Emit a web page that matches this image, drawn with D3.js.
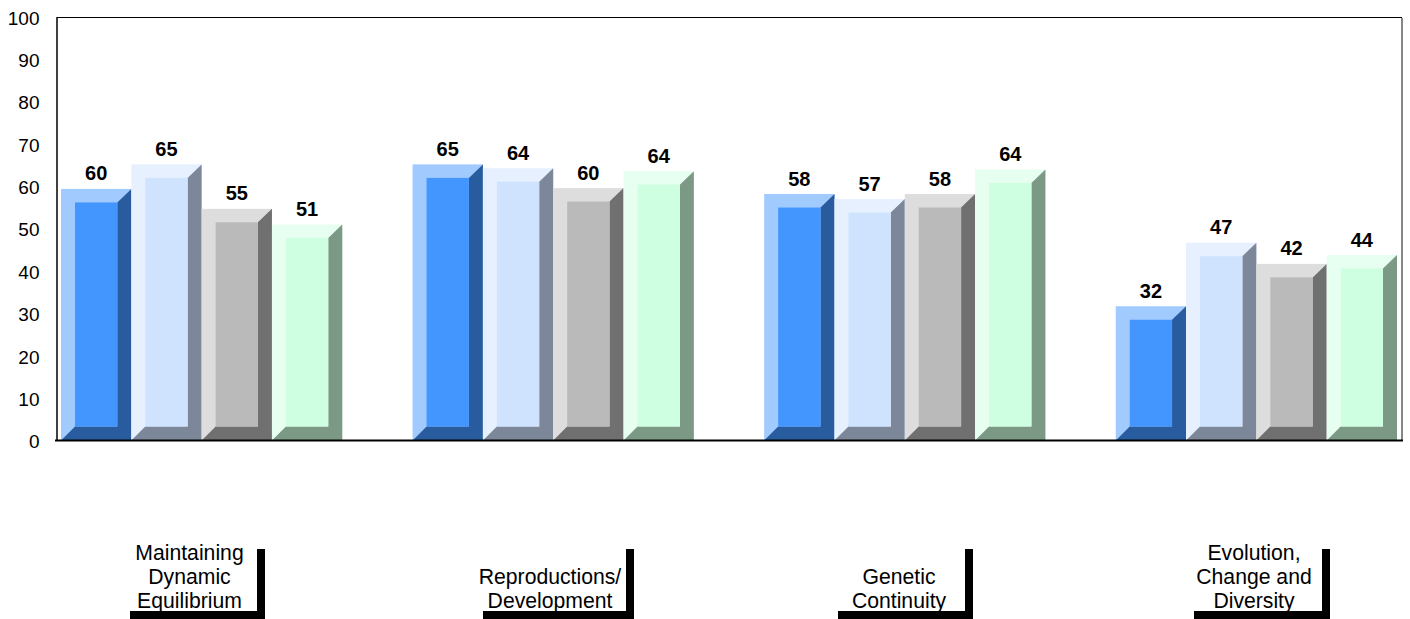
<!DOCTYPE html>
<html><head><meta charset="utf-8">
<script src="https://cdn.jsdelivr.net/npm/d3@7"></script>
<style>html,body{margin:0;padding:0;background:#fff}svg{display:block}text{font-family:"Liberation Sans",Arial,sans-serif;fill:#000}</style>
</head><body><div id="c"></div>
<script>
const categories = ["Maintaining Dynamic Equilibrium","Reproductions/ Development","Genetic Continuity","Evolution, Change and Diversity"];
const categoryLines = [["Maintaining","Dynamic","Equilibrium"],["Reproductions/","Development"],["Genetic","Continuity"],["Evolution,","Change and","Diversity"]];
const seriesNames = ["s1","s2","s3","s4"];
const series1 = [59.4,65.2,58.2,31.7];
const series2 = [65.2,64.3,57.0,46.7];
const series3 = [54.7,59.6,58.2,41.7];
const series4 = [51.0,63.6,64.0,43.8];
const labels1 = [60,65,58,32];
const labels2 = [65,64,57,47];
const labels3 = [55,60,58,42];
const labels4 = [51,64,64,44];
const yTicks = [0,10,20,30,40,50,60,70,80,90,100];
const frontColors = ["#4496ff","#cfe3ff","#bababa","#cfffe1"];
const lightColors = ["#a1caff","#e6f0ff","#dddddd","#e6fff0"];
const darkColors  = ["#295c9f","#7c8799","#707070","#7c9985"];

const W=1410,H=619;
const svg=d3.select("#c").append("svg").attr("width",W).attr("height",H);
const y=d3.scaleLinear().domain([0,100]).range([440.5,17]);
const x0=d3.scaleBand().domain(categories).range([61,1397]).paddingInner(0.2).paddingOuter(0);
const x1=d3.scaleBand().domain(seriesNames).range([0,x0.bandwidth()]);
const vals=[series1,series2,series3,series4], labs=[labels1,labels2,labels3,labels4];
const bev=14;

// frame
svg.append("line").attr("x1",56.5).attr("x2",1402).attr("y1",17.5).attr("y2",17.5).attr("stroke","#000");
svg.append("line").attr("x1",1402).attr("x2",1402).attr("y1",18).attr("y2",440).attr("stroke","#868686").attr("stroke-width",2);

const poly=(g,pts,fill)=>g.append("polygon").attr("points",pts.map(p=>p.join(",")).join(" ")).attr("fill",fill);
categories.forEach((c,ci)=>{
  seriesNames.forEach((s,si)=>{
    const g=svg.append("g");
    const l=x0(c)+x1(s), r=l+x1.bandwidth(), t=y(vals[si][ci]), b=y(0);
    const il=l+bev, ir=r-bev, it=t+bev-0.5, ib=b-bev;
    g.append("rect").attr("x",l).attr("y",t).attr("width",r-l).attr("height",b-t).attr("fill",lightColors[si]);
    poly(g,[[r,t],[r,b],[l,b],[il,ib],[ir,ib],[ir,it]],darkColors[si]);
    g.append("rect").attr("x",il).attr("y",it).attr("width",ir-il).attr("height",ib-it).attr("fill",frontColors[si]);
    g.append("text").attr("x",(l+r)/2).attr("y",t-8.5).attr("text-anchor","middle")
     .attr("font-size",20).attr("font-weight","bold").text(labs[si][ci]);
  });
});

// axes
const ax=svg.append("g").attr("transform","translate(56.5,0)").call(d3.axisLeft(y).tickValues(yTicks).tickSize(0).tickPadding(17));
ax.select(".domain").attr("stroke","#000").attr("stroke-width",1.5);
ax.selectAll("text").attr("font-size",19).attr("dy","0.38em").style("font-family",'"Liberation Sans",Arial,sans-serif').attr("fill","#000");
svg.append("line").attr("x1",55).attr("x2",1403).attr("y1",440.5).attr("y2",440.5).attr("stroke","#000").attr("stroke-width",2);

// category boxes
const boxRight=[265,634,973,1330], boxWidth=[135,151,135,136], textMid=[189.5,550,899,1254];
categories.forEach((c,i)=>{
  const lines=categoryLines[i], g=svg.append("g");
  lines.forEach((t,k)=>g.append("text").attr("x",textMid[i]).attr("y",608-(lines.length-1-k)*24)
    .attr("text-anchor","middle").attr("font-size",21.2).text(t));
  g.append("rect").attr("x",boxRight[i]-8).attr("y",549).attr("width",8).attr("height",70).attr("fill","#000");
  g.append("rect").attr("x",boxRight[i]-boxWidth[i]).attr("y",611).attr("width",boxWidth[i]).attr("height",8).attr("fill","#000");
});
</script></body></html>
